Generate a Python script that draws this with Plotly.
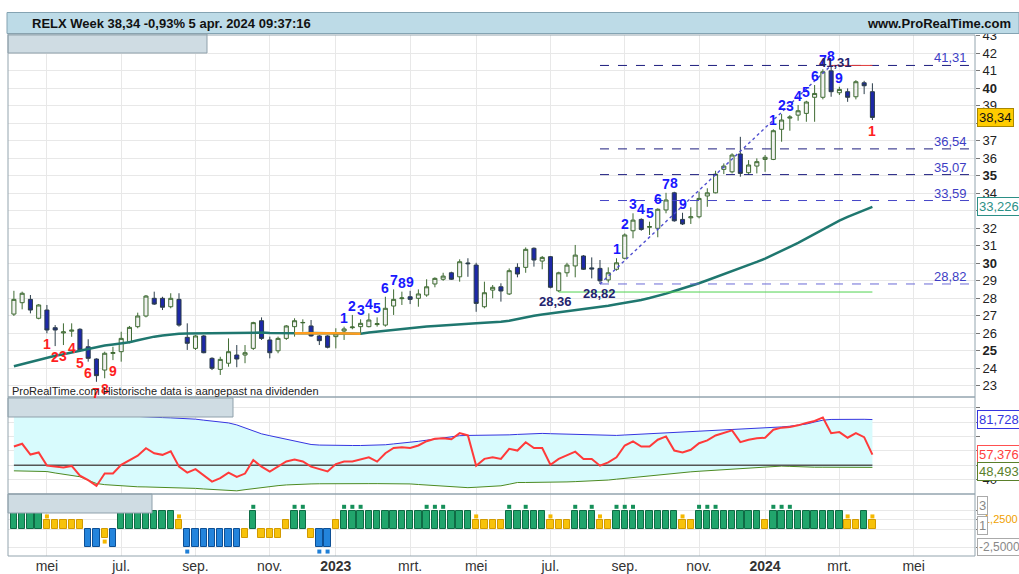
import plotly.graph_objects as go
import pandas as pd

# ---------------- data ----------------
dates = pd.date_range('2022-04-04', periods=105, freq='7D')

opens = [27.10, 27.75, 27.94, 26.86, 27.33, 26.32, 26.02, 26.12, 26.23, 25.23,
         24.53, 23.90, 24.85, 24.95, 25.52, 26.38, 26.99, 28.00, 28.00, 27.52,
         27.94, 25.77, 25.14, 25.85, 24.57, 23.94, 24.29, 24.76, 24.76, 25.14,
         26.72, 25.62, 25.00, 25.71, 26.38, 26.60, 26.42, 25.85, 25.85, 25.81,
         26.13, 26.32, 26.38, 26.38, 26.50, 26.47, 27.56, 27.98, 28.09, 28.00,
         28.19, 28.82, 29.09, 29.46, 29.23, 30.02, 29.90, 27.52, 28.47, 28.66,
         28.25, 29.77, 29.77, 30.86, 30.13, 30.38, 28.43, 29.46, 29.85, 30.42,
         29.74, 29.71, 29.05, 29.66, 30.29, 31.86, 32.51, 32.06, 32.00, 33.05,
         34.03, 32.51, 32.60, 32.66, 33.85, 34.03, 35.37, 35.23, 36.25, 35.18,
         35.56, 35.94, 35.94, 37.66, 38.30, 38.47, 38.57, 39.49, 39.49, 41.00,
         39.75, 39.81, 39.52, 40.32, 39.81]
highs = [28.43, 28.38, 28.19, 27.67, 27.62, 26.47, 26.57, 26.57, 26.29, 25.66,
         24.57, 24.95, 25.23, 26.09, 26.42, 27.18, 28.19, 28.38, 28.09, 28.29,
         28.29, 26.57, 25.90, 25.90, 24.63, 24.66, 25.71, 25.33, 25.33, 26.66,
         26.91, 25.81, 25.81, 26.47, 26.86, 26.80, 26.76, 25.90, 25.89, 26.29,
         26.38, 27.05, 26.80, 27.14, 26.91, 28.09, 28.51, 28.38, 28.43, 28.51,
         29.09, 29.20, 29.46, 29.52, 30.23, 30.29, 30.03, 28.95, 28.76, 28.86,
         29.71, 30.00, 30.91, 30.91, 30.42, 30.42, 29.52, 30.03, 31.05, 30.47,
         30.34, 30.19, 29.77, 30.29, 31.71, 32.86, 32.57, 32.38, 33.14, 34.03,
         34.09, 32.89, 33.20, 34.09, 34.29, 35.29, 35.71, 36.29, 37.23, 35.90,
         36.00, 36.19, 37.66, 38.53, 38.47, 39.05, 39.29, 40.19, 41.09, 41.31,
         40.09, 40.00, 40.47, 40.43, 40.29]
lows = [26.99, 27.37, 27.14, 26.80, 26.00, 25.27, 25.33, 25.80, 24.95, 24.38,
        23.23, 23.43, 24.47, 24.38, 25.43, 26.29, 26.91, 27.62, 27.33, 27.43,
        26.38, 25.05, 25.05, 24.86, 23.90, 23.62, 24.09, 24.06, 24.29, 25.05,
        25.62, 24.57, 24.86, 25.62, 25.81, 26.09, 25.81, 25.33, 25.14, 25.14,
        25.62, 26.23, 25.96, 26.34, 26.38, 26.38, 27.05, 27.62, 27.67, 27.52,
        28.09, 28.63, 29.00, 29.05, 28.95, 29.23, 27.23, 27.43, 28.00, 27.81,
        28.19, 29.20, 29.46, 29.81, 29.66, 28.57, 28.36, 29.23, 29.20, 29.62,
        29.14, 28.82, 28.90, 29.58, 30.23, 31.43, 31.86, 31.62, 31.49, 32.86,
        32.38, 32.19, 32.25, 32.57, 33.23, 34.00, 35.10, 35.14, 34.95, 35.05,
        35.14, 35.23, 35.90, 36.95, 37.58, 38.15, 38.09, 38.09, 39.37, 39.52,
        39.62, 39.23, 39.37, 39.67, 38.19]
closes = [27.94, 28.29, 27.33, 27.62, 26.19, 26.19, 26.08, 26.18, 25.05, 24.57,
          23.58, 24.86, 24.90, 25.71, 26.34, 26.99, 28.13, 27.67, 27.49, 28.00,
          26.47, 25.43, 25.85, 24.89, 24.00, 24.51, 24.95, 24.53, 24.89, 26.61,
          25.71, 24.89, 25.71, 26.42, 26.72, 26.62, 25.85, 25.58, 25.20, 25.96,
          26.25, 26.36, 26.57, 26.76, 26.55, 27.43, 27.94, 28.02, 27.94, 28.25,
          28.66, 29.14, 29.27, 29.09, 30.09, 29.98, 27.71, 28.32, 28.63, 28.42,
          29.58, 29.39, 30.80, 30.19, 30.34, 28.63, 29.46, 29.90, 30.47, 29.66,
          29.68, 29.00, 29.46, 30.03, 31.62, 32.47, 31.94, 32.10, 33.09, 33.62,
          32.43, 32.25, 32.66, 33.71, 34.03, 35.10, 35.56, 36.19, 35.14, 35.62,
          35.81, 36.06, 37.58, 38.19, 38.36, 38.72, 39.22, 39.71, 40.95, 39.81,
          39.94, 39.49, 40.38, 40.15, 38.34]

ma_values = [24.12, 24.24, 24.37, 24.50, 24.62, 24.72, 24.80, 24.90, 25.02, 25.14,
             25.23, 25.30, 25.36, 25.42, 25.49, 25.60, 25.72, 25.81, 25.88, 25.94,
             25.97, 25.99, 26.00, 26.01, 26.02, 26.03, 26.03, 26.04, 26.05, 26.05,
             26.04, 26.02, 26.01, 26.00, 26.00, 26.01, 26.02, 26.02, 26.01, 26.00,
             25.99, 25.98, 25.98, 26.05, 26.10, 26.16, 26.21, 26.27, 26.32, 26.36,
             26.39, 26.42, 26.46, 26.49, 26.52, 26.55, 26.58, 26.61, 26.63, 26.66,
             26.72, 26.82, 26.92, 27.00, 27.07, 27.13, 27.19, 27.25, 27.33, 27.40,
             27.46, 27.51, 27.58, 27.66, 27.73, 27.81, 27.91, 28.02, 28.13, 28.27,
             28.42, 28.56, 28.71, 28.86, 29.03, 29.20, 29.38, 29.56, 29.74, 29.91,
             30.08, 30.27, 30.48, 30.71, 30.94, 31.17, 31.42, 31.67, 31.93, 32.21,
             32.44, 32.65, 32.85, 33.04, 33.226]
ma_orange_weeks = list(range(34, 43))

rsi = [63.0, 64.9, 57.4, 58.9, 49.7, 49.0, 48.5, 49.5, 42.7, 39.6,
       35.6, 44.2, 44.2, 50.3, 53.6, 56.6, 61.8, 58.3, 57.2, 59.7,
       49.0, 44.9, 47.3, 42.7, 38.6, 41.0, 44.9, 41.9, 44.2, 53.6,
       49.0, 45.5, 49.0, 52.6, 53.9, 52.6, 49.0, 47.3, 45.7, 50.8,
       52.5, 52.6, 53.9, 55.5, 52.5, 58.3, 62.0, 62.5, 62.0, 63.7,
       66.7, 68.4, 68.8, 68.0, 72.3, 70.7, 49.7, 54.4, 55.5, 54.4,
       61.4, 60.2, 66.0, 62.0, 62.0, 50.3, 54.4, 56.7, 59.4, 54.4,
       54.4, 49.7, 52.0, 55.5, 63.7, 66.5, 63.0, 63.0, 67.7, 70.0,
       60.2, 58.9, 60.7, 65.3, 67.2, 70.7, 72.3, 74.2, 66.0, 67.7,
       68.8, 69.1, 74.7, 76.1, 76.6, 77.7, 79.4, 80.7, 83.2, 72.3,
       73.0, 69.1, 72.3, 69.5, 57.376]
upper_band = [88.0, 87.7, 87.4, 87.1, 86.8, 86.5, 86.2, 85.9, 85.6, 85.3,
              85.0, 84.7, 84.4, 84.1, 83.9, 83.7, 83.5, 83.3, 83.1, 82.9,
              82.7, 82.6, 82.0, 81.3, 80.6, 80.0, 79.4, 78.0, 75.9, 73.8,
              71.8, 70.5, 69.3, 68.0, 66.7, 65.4, 64.4, 64.0, 63.8, 63.7,
              63.7, 63.7, 63.7, 63.7, 63.7, 64.2, 64.8, 65.3, 65.9, 66.6,
              67.4, 68.2, 69.0, 69.8, 70.5, 70.7, 70.7, 70.7, 70.7, 70.8,
              71.1, 71.4, 71.7, 72.0, 72.1, 71.9, 71.7, 71.5, 71.3, 71.1,
              70.9, 70.8, 70.7, 70.7, 71.0, 71.3, 71.6, 71.9, 72.1, 72.1,
              72.3, 72.6, 73.0, 73.4, 73.8, 74.2, 74.6, 74.9, 75.1, 75.3,
              75.5, 75.7, 76.1, 76.6, 77.1, 77.6, 78.6, 80.0, 81.3, 81.8,
              81.9, 82.0, 82.0, 81.9, 81.728]
lower_band = [46.1, 46.1, 46.1, 46.1, 45.6, 44.6, 43.6, 42.7, 42.0, 39.5,
              37.3, 36.5, 36.0, 35.6, 35.2, 35.0, 34.9, 34.8, 34.6, 34.5,
              34.4, 34.3, 33.9, 33.5, 33.1, 32.7, 32.3, 32.2, 33.0, 33.8,
              34.6, 35.2, 35.8, 36.3, 36.7, 36.9, 37.0, 37.1, 37.2, 37.2,
              37.2, 37.2, 37.2, 37.2, 37.2, 37.2, 37.2, 37.2, 37.0, 36.6,
              36.2, 35.8, 35.3, 34.9, 34.6, 34.4, 34.7, 35.1, 35.5, 35.7,
              36.8, 38.0, 38.0, 38.0, 38.0, 38.0, 38.2, 38.4, 38.6, 38.8,
              39.0, 39.1, 39.7, 40.3, 40.9, 41.5, 42.1, 42.6, 43.2, 43.8,
              44.4, 45.0, 45.4, 45.8, 46.2, 46.6, 46.9, 47.3, 47.7, 48.1,
              48.5, 49.1, 49.4, 49.4, 49.2, 48.9, 48.7, 48.6, 48.6, 48.5,
              48.5, 48.5, 48.5, 48.5, 48.493]
rsi_mid = 50

# trend state per week: G = strong up, Y = weak up, y = weak down, B = down
trend_state = ('GGGG' 'YYYYY' 'BB' 'y' 'B' 'GGGGGGG' 'Y' 'BBBBBBB' 'y' 'G' 'yyy' 'Y'
               'GG' 'y' 'BB' 'Y' 'GGGGGGGGGGGGGGGG' 'YYYY' 'GGGGG' 'YYY' 'GGG' 'YY'
               'GGGGGGGG' 'YY' 'GGGGGGGG' 'Y' 'GGGGGGGGG' 'YY' 'G' 'Y')
state_value = {'G': 2.5, 'Y': 1.25, 'y': -1.25, 'B': -2.5}
green_dot_weeks = [29, 34, 35, 40, 41, 42, 50, 51, 52, 60, 62, 68, 70, 73, 74, 75, 83, 84, 85, 92, 93, 94]
blue_dot_weeks = [21, 37, 38]
yellow_dot_weeks = [4, 20, 56, 65, 71, 81, 101, 104]
yellow_low_dot_weeks = [11]

td_buy_weeks = list(range(40, 49)) + list(range(73, 82)) + list(range(92, 101))
td_buy_labels = [str(i) for i in range(1, 10)] * 3
td_sell_weeks = list(range(4, 13)) + [104]
td_sell_labels = [str(i) for i in range(1, 10)] + ['1']

levels = [41.31, 36.54, 35.07, 33.59, 28.82]
level_start_week = 71
support_low_week = 66      # 28,36
swing_low_week = 71        # 28,82
swing_high_week = 99       # 41,31

month_ticks = ['2022-05-02', '2022-07-04', '2022-09-05', '2022-11-07', '2023-01-02', '2023-03-06',
               '2023-05-01', '2023-07-03', '2023-09-04', '2023-11-06', '2024-01-01', '2024-03-04',
               '2024-05-06']
month_labels = ['mei', 'jul.', 'sep.', 'nov.', '<b>2023</b>', 'mrt.', 'mei', 'jul.', 'sep.', 'nov.',
                '<b>2024</b>', 'mrt.', 'mei']
price_ticks = list(range(23, 44))
price_ticks_hidden = [33, 38]   # covered by the value boxes

# ---------------- styling helpers ----------------
FONT = 'Liberation Sans, Arial, sans-serif'
W, H = 1019, 574
PL, PR, PT, PB = 8, 975, 35, 556


def px_x(px):
    return (px - PL) / (PR - PL)


def px_y(py):
    return (PB - py) / (PB - PT)


def nl(v, d=2):
    return f'{v:.{d}f}'.replace('.', ',')


fig = go.Figure()

# ---------------- price panel ----------------
fig.add_trace(go.Candlestick(
    x=dates, open=opens, high=highs, low=lows, close=closes,
    xaxis='x', yaxis='y',
    increasing=dict(line=dict(color='#3f6b33', width=1), fillcolor='#f2f2f2'),
    decreasing=dict(line=dict(color='#2b3d4a', width=1), fillcolor='#1d28a8'),
    whiskerwidth=0, showlegend=False, hoverinfo='skip'))
fig.add_trace(go.Scatter(x=dates, y=ma_values, mode='lines', xaxis='x', yaxis='y',
                         line=dict(color='#1f776f', width=2.5), showlegend=False, hoverinfo='skip'))
fig.add_trace(go.Scatter(x=[dates[i] for i in ma_orange_weeks], y=[ma_values[i] for i in ma_orange_weeks],
                         mode='lines', xaxis='x', yaxis='y',
                         line=dict(color='#ff9d1e', width=2.5), showlegend=False, hoverinfo='skip'))

# ---------------- RSI panel ----------------
fig.add_trace(go.Scatter(x=dates, y=lower_band, mode='lines', xaxis='x2', yaxis='y2',
                         line=dict(color='#4d8a22', width=1), showlegend=False, hoverinfo='skip'))
fig.add_trace(go.Scatter(x=dates, y=upper_band, mode='lines', xaxis='x2', yaxis='y2', fill='tonexty',
                         fillcolor='#d8fbfd', line=dict(color='#3535e0', width=1),
                         showlegend=False, hoverinfo='skip'))
fig.add_trace(go.Scatter(x=[dates[0], dates[-1]], y=[rsi_mid, rsi_mid], mode='lines', xaxis='x2', yaxis='y2',
                         line=dict(color='#555555', width=1.5), showlegend=False, hoverinfo='skip'))
fig.add_trace(go.Scatter(x=dates, y=rsi, mode='lines', xaxis='x2', yaxis='y2',
                         line=dict(color='#ff3a3a', width=2), showlegend=False, hoverinfo='skip'))

# ---------------- trend histogram panel ----------------
fill_map = {'G': '#21a56c', 'Y': '#f7c20a', 'y': '#f7c20a', 'B': '#2384dc'}
edge_map = {'G': '#0f6b45', 'Y': '#d29a00', 'y': '#d29a00', 'B': '#0d4f94'}
fig.add_trace(go.Bar(x=dates, y=[state_value[s] for s in trend_state], xaxis='x3', yaxis='y3',
                     width=[5.4 * 86400000] * len(dates),
                     marker=dict(color=[fill_map[s] for s in trend_state],
                                 line=dict(color=[edge_map[s] for s in trend_state], width=1)),
                     showlegend=False, hoverinfo='skip'))
fig.add_trace(go.Scatter(x=[dates[i] for i in green_dot_weeks], y=[3.0] * len(green_dot_weeks),
                         mode='markers', xaxis='x3', yaxis='y3',
                         marker=dict(symbol='square', size=4, color='#16905a'), showlegend=False, hoverinfo='skip'))
fig.add_trace(go.Scatter(x=[dates[i] for i in blue_dot_weeks], y=[-3.05] * len(blue_dot_weeks),
                         mode='markers', xaxis='x3', yaxis='y3',
                         marker=dict(symbol='square', size=4, color='#1f7fd6'), showlegend=False, hoverinfo='skip'))
fig.add_trace(go.Scatter(x=[dates[i] for i in yellow_dot_weeks], y=[1.7] * len(yellow_dot_weeks),
                         mode='markers', xaxis='x3', yaxis='y3',
                         marker=dict(symbol='square', size=4, color='#f5b800'), showlegend=False, hoverinfo='skip'))
fig.add_trace(go.Scatter(x=[dates[i] for i in yellow_low_dot_weeks], y=[-1.7] * len(yellow_low_dot_weeks),
                         mode='markers', xaxis='x3', yaxis='y3',
                         marker=dict(symbol='square', size=4, color='#f5b800'), showlegend=False, hoverinfo='skip'))

# ---------------- shapes ----------------
shapes = []
x_end = '2024-06-27'
level_colors = ['#1c1c7e', '#1c1c7e', '#1c1c7e', '#4646c8', '#6a6ad6']
for lv, col in zip(levels, level_colors):
    shapes.append(dict(type='line', xref='x', yref='y', x0=dates[level_start_week], x1=x_end, y0=lv, y1=lv,
                       line=dict(color=col, width=1, dash='dash'), layer='above'))
shapes.append(dict(type='line', xref='x', yref='y', x0=dates[support_low_week], x1=dates[-1],
                   y0=lows[support_low_week], y1=lows[support_low_week], line=dict(color='#4fd24f', width=1)))
shapes.append(dict(type='line', xref='x', yref='y', x0=dates[swing_high_week], x1=dates[-1],
                   y0=highs[swing_high_week], y1=highs[swing_high_week], line=dict(color='#e03a3a', width=1)))
shapes.append(dict(type='line', xref='x', yref='y', x0=dates[swing_low_week], x1=dates[swing_high_week],
                   y0=lows[swing_low_week], y1=highs[swing_high_week],
                   line=dict(color='#4f4fd0', width=1.4, dash='dot'), layer='above'))

# title bar
shapes.append(dict(type='rect', xref='paper', yref='paper', x0=px_x(7), x1=px_x(1019), y0=px_y(33.5), y1=px_y(12.5),
                   fillcolor='#bddbe7', line=dict(color='#84a3b2', width=1), layer='above'))
# grey header boxes
for (a, b, c, d) in [(8, 34, 207, 53), (8, 398, 233, 417), (8, 494, 152, 513)]:
    shapes.append(dict(type='rect', xref='paper', yref='paper', x0=px_x(a), x1=px_x(c), y0=px_y(d), y1=px_y(b),
                       fillcolor='#cfdce3', line=dict(color='#8fa1ab', width=1), layer='above'))
# panel frames
for (top, bot) in [(PT, 397), (397, 494), (494, PB)]:
    shapes.append(dict(type='rect', xref='paper', yref='paper', x0=0, x1=1, y0=px_y(bot), y1=px_y(top),
                       line=dict(color='#93a4ae', width=1), fillcolor='rgba(0,0,0,0)', layer='above'))

# ---------------- annotations ----------------
ann = []
for i, t in zip(td_buy_weeks, td_buy_labels):
    ann.append(dict(x=dates[i], y=highs[i], xref='x', yref='y', text=f'<b>{t}</b>', showarrow=False,
                    yanchor='bottom', yshift=-1, font=dict(family=FONT, size=14, color='#1818ff')))
for i, t in zip(td_sell_weeks, td_sell_labels):
    ann.append(dict(x=dates[i], y=lows[i], xref='x', yref='y', text=f'<b>{t}</b>', showarrow=False,
                    yanchor='top', yshift=-1, font=dict(family=FONT, size=14, color='#ff1f1f')))
ann.append(dict(x=dates[support_low_week], y=lows[support_low_week], xref='x', yref='y',
                text=f'<b>{nl(lows[support_low_week])}</b>', showarrow=False, yanchor='top', xshift=-3,
                font=dict(family=FONT, size=13, color='#24246e')))
ann.append(dict(x=dates[swing_low_week], y=lows[swing_low_week], xref='x', yref='y',
                text=f'<b>{nl(lows[swing_low_week])}</b>', showarrow=False, yanchor='top',
                font=dict(family=FONT, size=13, color='#24246e')))
ann.append(dict(x=dates[swing_high_week], y=highs[swing_high_week], xref='x', yref='y',
                text=f'<b>{nl(highs[swing_high_week])}</b>', showarrow=False, yanchor='middle', yshift=3, xshift=4,
                font=dict(family=FONT, size=13, color='#24246e')))
for lv in levels:
    ann.append(dict(x=px_x(969), y=lv, xref='paper', yref='y', text=nl(lv), showarrow=False,
                    xanchor='right', yanchor='bottom', yshift=-2,
                    font=dict(family=FONT, size=13, color='#3d3dc4')))

# right-side value boxes
ann.append(dict(x=px_x(977), y=closes[-1], xref='paper', yref='y', text=nl(closes[-1]), showarrow=False,
                xanchor='left', bgcolor='#ffcc00', bordercolor='#a88700', borderwidth=1, borderpad=1,
                font=dict(family=FONT, size=13, color='#111111')))
ann.append(dict(x=px_x(977), y=ma_values[-1], xref='paper', yref='y', text=nl(ma_values[-1], 3), showarrow=False,
                xanchor='left', bgcolor='#ffffff', bordercolor='#2b8f86', borderwidth=1, borderpad=1,
                font=dict(family=FONT, size=13, color='#2b8f86')))
ann.append(dict(x=px_x(977), y=upper_band[-1], xref='paper', yref='y2', text=nl(upper_band[-1], 3), showarrow=False,
                xanchor='left', bgcolor='#ffffff', bordercolor='#3535e0', borderwidth=1, borderpad=1,
                font=dict(family=FONT, size=13, color='#3535e0')))
ann.append(dict(x=px_x(977), y=rsi[-1], xref='paper', yref='y2', text=nl(rsi[-1], 3), showarrow=False,
                xanchor='left', bgcolor='#ffffff', bordercolor='#ff5050', borderwidth=1, borderpad=1,
                font=dict(family=FONT, size=13, color='#ff4040')))
ann.append(dict(x=px_x(977), y=lower_band[-1], xref='paper', yref='y2', text=nl(lower_band[-1], 3), showarrow=False,
                xanchor='left', yshift=-4, bgcolor='#ffffff', bordercolor='#5a7f2a', borderwidth=1, borderpad=1,
                font=dict(family=FONT, size=13, color='#5a7f2a')))
ann.append(dict(x=px_x(977), y=3.2, xref='paper', yref='y3', text='3', showarrow=False,
                xanchor='left', bgcolor='#ffffff', bordercolor='#aaaaaa', borderwidth=1, borderpad=1,
                font=dict(family=FONT, size=13, color='#888888')))
ann.append(dict(x=px_x(982), y=1.3, xref='paper', yref='y3', text='1,2500', showarrow=False,
                xanchor='left', font=dict(family=FONT, size=11, color='#f0a000')))
ann.append(dict(x=px_x(977), y=0.5, xref='paper', yref='y3', text='1', showarrow=False,
                xanchor='left', bgcolor='#ffffff', bordercolor='#aaaaaa', borderwidth=1, borderpad=1,
                font=dict(family=FONT, size=13, color='#888888')))
ann.append(dict(x=px_x(977), y=-2.5, xref='paper', yref='y3', text='-2,5000', showarrow=False,
                xanchor='left', bgcolor='#ffffff', bordercolor='#aaaaaa', borderwidth=1, borderpad=1,
                font=dict(family=FONT, size=12, color='#888888')))

# title texts
ann.append(dict(x=px_x(30), y=px_y(23), xref='paper', yref='paper', xanchor='left', yanchor='middle',
                text='<b>RELX Week 38,34 -0,93% 5 apr. 2024 09:37:16</b>', showarrow=False,
                font=dict(family=FONT, size=13, color='#111111')))
ann.append(dict(x=px_x(865), y=px_y(23), xref='paper', yref='paper', xanchor='left', yanchor='middle',
                text='<b>www.ProRealTime.com</b>', showarrow=False,
                font=dict(family=FONT, size=13, color='#111111')))
ann.append(dict(x=px_x(10), y=px_y(391), xref='paper', yref='paper', xanchor='left', yanchor='middle',
                text='ProRealTime.com Historische data is aangepast na dividenden', showarrow=False,
                font=dict(family=FONT, size=11, color='#222222')))

# ---------------- layout ----------------
grid = '#e8e8e8'
xcommon = dict(type='date', range=['2022-03-30', x_end], tickvals=month_ticks, showgrid=True,
               gridcolor=grid, zeroline=False, showline=False, ticks='', automargin=False)
price_text = ['' if v in price_ticks_hidden else (f'<b>{v}</b>' if v % 5 == 0 else str(v)) for v in price_ticks]

fig.update_layout(
    width=W, height=H,
    margin=dict(l=PL, r=W - PR, t=PT, b=H - PB, autoexpand=False),
    paper_bgcolor='white', plot_bgcolor='white',
    showlegend=False, bargap=0,
    font=dict(family=FONT, size=13, color='#222222'),
    xaxis=dict(xcommon, domain=[0, 1], anchor='y', showticklabels=False, rangeslider=dict(visible=False)),
    xaxis2=dict(xcommon, domain=[0, 1], anchor='y2', matches='x', showticklabels=False),
    xaxis3=dict(xcommon, domain=[0, 1], anchor='y3', matches='x', ticktext=month_labels,
                tickfont=dict(family=FONT, size=14, color='#333333')),
    yaxis=dict(domain=[px_y(397), 1], anchor='x', side='right', range=[22.36, 43.05], automargin=False,
               tickvals=price_ticks, ticktext=price_text, showgrid=True, gridcolor=grid, zeroline=False,
               ticks='outside', ticklen=4, tickcolor='#777777', tickfont=dict(family=FONT, size=13, color='#222222')),
    yaxis2=dict(domain=[px_y(494), px_y(397)], anchor='x2', side='right', range=[30, 97.4], automargin=False,
                tickvals=[40, 50, 60, 70, 80, 90], ticktext=['40', '', '', '', '', ''], showgrid=True,
                gridcolor=grid, zeroline=False, ticks='outside', ticklen=4, tickcolor='#777777',
                tickfont=dict(family=FONT, size=13, color='#222222')),
    yaxis3=dict(domain=[0, px_y(494)], anchor='x3', side='right', range=[-3.65, 4.73], automargin=False,
                tickvals=[-2.5, 0, 1.25, 2.5], ticktext=['', '', '', ''], showgrid=True, gridcolor=grid,
                zeroline=False, ticks='outside', ticklen=4, tickcolor='#777777'),
    shapes=shapes, annotations=ann,
)

fig.write_html('out.html', config={'displayModeBar': False},
               post_script="document.body.style.margin='0';")
